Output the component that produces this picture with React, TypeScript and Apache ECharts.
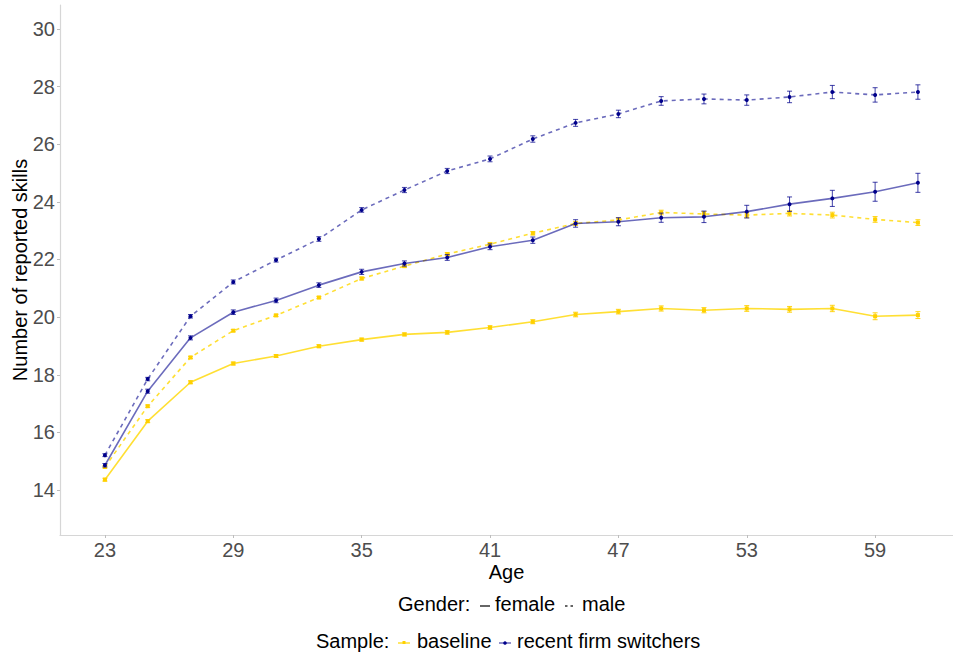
import React, { useEffect, useRef } from "react";
import * as echarts from "echarts";

const ages = [23, 25, 27, 29, 31, 33, 35, 37, 39, 41, 43, 45, 47, 49, 51, 53, 55, 57, 59, 61];

const femaleBaseline = [14.36, 16.39, 17.74, 18.39, 18.65, 18.99, 19.22, 19.4, 19.47, 19.64, 19.84, 20.09, 20.19, 20.3, 20.24, 20.3, 20.27, 20.3, 20.03, 20.07];
const femaleBaselineErr = [0.05, 0.05, 0.05, 0.05, 0.05, 0.05, 0.05, 0.05, 0.06, 0.06, 0.07, 0.08, 0.08, 0.09, 0.09, 0.1, 0.1, 0.11, 0.12, 0.12];

const maleBaseline = [14.8, 16.91, 18.6, 19.53, 20.06, 20.68, 21.34, 21.77, 22.19, 22.53, 22.91, 23.25, 23.37, 23.63, 23.58, 23.54, 23.6, 23.54, 23.39, 23.28];
const maleBaselineErr = [0.04, 0.04, 0.04, 0.04, 0.04, 0.04, 0.05, 0.05, 0.05, 0.06, 0.06, 0.07, 0.07, 0.08, 0.08, 0.09, 0.09, 0.1, 0.1, 0.1];

const femaleSwitchers = [14.86, 17.43, 19.28, 20.17, 20.58, 21.11, 21.57, 21.86, 22.07, 22.44, 22.67, 23.25, 23.31, 23.45, 23.48, 23.66, 23.92, 24.12, 24.35, 24.66];
const femaleSwitchersErr = [0.06, 0.07, 0.07, 0.08, 0.08, 0.08, 0.09, 0.09, 0.1, 0.1, 0.11, 0.13, 0.14, 0.16, 0.2, 0.22, 0.25, 0.28, 0.33, 0.33];

const maleSwitchers = [15.21, 17.85, 20.03, 21.22, 21.98, 22.71, 23.72, 24.41, 25.07, 25.49, 26.18, 26.74, 27.05, 27.5, 27.57, 27.53, 27.64, 27.81, 27.71, 27.81];
const maleSwitchersErr = [0.05, 0.06, 0.06, 0.07, 0.07, 0.08, 0.08, 0.09, 0.09, 0.1, 0.11, 0.12, 0.13, 0.15, 0.17, 0.18, 0.2, 0.23, 0.25, 0.25];

const xTicks = [23, 29, 35, 41, 47, 53, 59];
const yTicks = [14, 16, 18, 20, 22, 24, 26, 28, 30];

const FONT = "'Liberation Sans', Arial, sans-serif";
const BLUE_LINE = "rgba(0,0,139,0.58)";
const BLUE_PT = "#00008B";
const BLUE_ERR = "rgba(0,0,139,0.75)";
const YEL_LINE = "rgba(255,215,0,0.8)";
const YEL_PT = "#FFD000";
const YEL_ERR = "rgba(255,208,0,0.9)";

function makeSeries(
  name: string,
  vals: number[],
  errs: number[],
  lineColor: string,
  ptColor: string,
  errColor: string,
  dashed: boolean,
  symbol: string,
  z: number
) {
  const line = {
    name,
    type: "line",
    data: ages.map((a, i) => [a, vals[i]]),
    symbol,
    symbolSize: 4,
    itemStyle: { color: ptColor },
    lineStyle: { color: lineColor, width: 1.6, type: dashed ? [4, 4] : "solid" },
    z,
    silent: true,
  };
  const err = {
    name: name + " err",
    type: "custom",
    data: ages.map((a, i) => [a, vals[i] - errs[i], vals[i] + errs[i]]),
    encode: { x: 0, y: [1, 2] },
    z: z + 1,
    silent: true,
    renderItem: (_params: any, api: any) => {
      const x = api.value(0);
      const lo = api.coord([x, api.value(1)]);
      const hi = api.coord([x, api.value(2)]);
      const w = 2.5;
      const style = { stroke: errColor, lineWidth: 1 };
      return {
        type: "group",
        children: [
          { type: "line", shape: { x1: lo[0], y1: lo[1], x2: hi[0], y2: hi[1] }, style },
          { type: "line", shape: { x1: lo[0] - w, y1: lo[1], x2: lo[0] + w, y2: lo[1] }, style },
          { type: "line", shape: { x1: hi[0] - w, y1: hi[1], x2: hi[0] + w, y2: hi[1] }, style },
        ],
      };
    },
  };
  return [line, err];
}

export default function App() {
  const ref = useRef<HTMLDivElement>(null);
  useEffect(() => {
    if (!ref.current) return;
    const chart = echarts.init(ref.current, undefined, { renderer: "svg" });
    const series = [
      ...makeSeries("female baseline", femaleBaseline, femaleBaselineErr, YEL_LINE, YEL_PT, YEL_ERR, false, "rect", 2),
      ...makeSeries("male baseline", maleBaseline, maleBaselineErr, YEL_LINE, YEL_PT, YEL_ERR, true, "rect", 2),
      ...makeSeries("female switchers", femaleSwitchers, femaleSwitchersErr, BLUE_LINE, BLUE_PT, BLUE_ERR, false, "circle", 4),
      ...makeSeries("male switchers", maleSwitchers, maleSwitchersErr, BLUE_LINE, BLUE_PT, BLUE_ERR, true, "circle", 4),
    ];
    const legendText = { fontSize: 20, fontFamily: FONT, fill: "#000", verticalAlign: "top" };
    const row1 = 605;
    const row2 = 642;
    chart.setOption({
      animation: false,
      backgroundColor: "#fff",
      grid: { left: 60, right: 0, top: 5, bottom: 123, containLabel: false, outerBoundsMode: "none" },
      xAxis: {
        type: "value",
        min: 20.9,
        max: 62.64,
        name: "Age",
        nameLocation: "middle",
        nameGap: 27,
        nameMoveOverlap: false,
        nameTextStyle: { fontSize: 20, fontFamily: FONT, color: "#000", verticalAlign: "top" },
        axisLine: { show: true, lineStyle: { color: "#d6d6d6", width: 1.2 } },
        axisTick: { show: true, length: 3, customValues: xTicks, lineStyle: { color: "#bdbdbd" } },
        axisLabel: { customValues: xTicks, fontSize: 20, fontFamily: FONT, color: "#4d4d4d", margin: 5 },
        splitLine: { show: false },
      },
      yAxis: {
        type: "value",
        min: 12.44,
        max: 30.83,
        name: "Number of reported skills",
        nameLocation: "middle",
        nameGap: 30,
        nameMoveOverlap: false,
        nameTextStyle: { fontSize: 20, fontFamily: FONT, color: "#000" },
        axisLine: { show: true, lineStyle: { color: "#d6d6d6", width: 1.2 } },
        axisTick: { show: true, length: 3, customValues: yTicks, lineStyle: { color: "#bdbdbd" } },
        axisLabel: { customValues: yTicks, fontSize: 20, fontFamily: FONT, color: "#4d4d4d", margin: 5 },
        splitLine: { show: false },
      },
      graphic: [
        { type: "text", left: 398, top: row1 - 11, style: { ...legendText, text: "Gender:" } },
        { type: "line", shape: { x1: 480, y1: row1 + 1, x2: 490, y2: row1 + 1 }, style: { stroke: "#333", lineWidth: 1.5 } },
        { type: "text", left: 495, top: row1 - 11, style: { ...legendText, text: "female" } },
        { type: "line", shape: { x1: 565, y1: row1 + 1, x2: 576, y2: row1 + 1 }, style: { stroke: "#333", lineWidth: 1.5, lineDash: [2.5, 3] } },
        { type: "text", left: 582, top: row1 - 11, style: { ...legendText, text: "male" } },

        { type: "text", left: 316, top: row2 - 11, style: { ...legendText, text: "Sample:" } },
        { type: "line", shape: { x1: 398, y1: row2 + 1, x2: 410, y2: row2 + 1 }, style: { stroke: YEL_LINE, lineWidth: 1.5 } },
        { type: "rect", shape: { x: 402.5, y: row2 - 1, width: 3, height: 3 }, style: { fill: YEL_PT } },
        { type: "text", left: 417, top: row2 - 11, style: { ...legendText, text: "baseline" } },
        { type: "line", shape: { x1: 499, y1: row2 + 1, x2: 511, y2: row2 + 1 }, style: { stroke: BLUE_LINE, lineWidth: 1.5 } },
        { type: "circle", shape: { cx: 505, cy: row2 + 1, r: 1.8 }, style: { fill: BLUE_PT } },
        { type: "text", left: 517, top: row2 - 11, style: { ...legendText, text: "recent firm switchers" } },
      ],
      series,
    });
    return () => chart.dispose();
  }, []);
  return (
    <div
      ref={ref}
      style={{ position: "fixed", left: 0, top: 0, width: 953, height: 658, background: "#fff" }}
    />
  );
}
